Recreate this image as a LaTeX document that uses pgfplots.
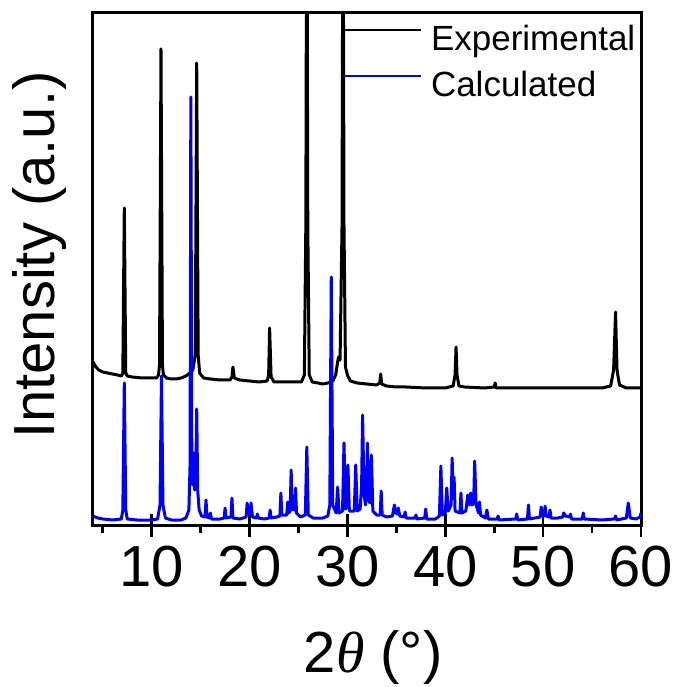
\documentclass[border=0pt]{standalone}
\usepackage{pgfplots}
\pgfplotsset{compat=1.18}
\usepackage{fontspec}
\setmainfont{Liberation Sans}
\newfontfamily\thetafont{Liberation Serif}
\begin{document}
\begin{tikzpicture}
\path[use as bounding box] (-92pt,-162pt) rectangle (583pt,525pt);
\begin{axis}[
  at={(0pt,0pt)}, anchor=south west,
  scale only axis, width=549pt, height=512pt,
  xmin=3.9, xmax=60, ymin=0, ymax=512,
  xtick={10,20,...,60}, minor xtick={5,15,...,55},
  ytick=\empty, xtick pos=bottom,
  /pgf/number format/assume math mode=true,
  tick align=center, major tick length=23pt, minor tick length=8pt,
  every tick/.style={black, line width=2.7pt},
  minor tick style={yshift=-4pt},
  axis line style={line width=3pt},
  tick label style={font=\fontsize{58}{60}\selectfont},
  xticklabel style={inner sep=0pt, anchor=north, yshift=-9pt},
  xlabel={2{\thetafont\itshape θ} (°)},
  xlabel style={font=\fontsize{58}{60}\selectfont, at={(axis description cs:0.512,-0.258)}, anchor=center},
  ylabel={Intensity (a.u.)},
  ylabel style={font=\fontsize{58}{60}\selectfont, at={(axis description cs:-0.096,0.527)}, anchor=center, rotate=0},
  legend style={at={(axis description cs:0.4554,0.9805)}, anchor=north west, draw=none, fill=none,
    inner sep=0pt, font=\fontsize{35}{37}\selectfont, row sep=8pt, column sep=6pt,
    nodes={inner sep=3pt, text height=24pt, text depth=8pt}},
  legend cell align=left,
  legend image code/.code={\draw[#1, line width=1.8pt] (0pt,12pt) -- (78pt,12pt);},
]
\addplot[black, line width=3pt, line join=round] coordinates {
(4.0,163) (4.3,158) (4.6,155) (5.0,153) (5.5,152) (6.0,151) (6.5,150) (6.9,149) (7.05,152) (7.2,317) (7.35,152) (7.5,149)
(8.0,148) (9.0,147) (10.0,147) (10.5,147) (10.7,150) (10.8,160) (10.95,476) (11.1,160) (11.2,150) (11.5,147)
(12.0,146) (12.5,146) (13.0,147) (13.5,149) (13.9,152) (14.2,155) (14.45,170) (14.6,462) (14.75,170) (14.9,152)
(15.3,147) (16.0,146) (17.0,145) (18.0,145) (18.2,148) (18.3,158) (18.45,147) (19.0,145) (20.0,144) (21.0,143)
(21.8,144) (21.95,150) (22.05,197) (22.2,148) (22.5,143) (23.5,143) (24.5,143) (25.3,143) (25.6,150) (25.75,300)
(25.85,700) (25.95,300) (26.1,150) (26.4,143) (27.0,142) (27.5,141) (28.0,142) (28.5,144) (28.8,150) (29.0,163)
(29.1,168) (29.25,165) (29.45,300) (29.55,700) (29.65,300) (29.8,158) (30.0,150) (30.3,144) (31.0,142) (32.0,141)
(33.0,140) (33.3,142) (33.4,151) (33.5,141) (34.0,139) (35.0,138) (36.0,138) (38.0,137) (40.0,137) (40.8,139)
(41.0,150) (41.1,178) (41.2,150) (41.4,139) (42.0,138) (44.0,137) (45.0,138) (45.1,142) (45.2,137) (47.0,137)
(50.0,137) (53.0,137) (56.0,137) (56.9,139) (57.2,155) (57.4,213) (57.55,155) (57.8,140) (58.5,137) (60.0,137)
};
\addlegendentry{Experimental}
\addplot[blue, line width=3pt, line join=round] coordinates {
(4.0,9) (4.5,7) (5.0,6) (6.0,5) (6.9,6) (7.05,15) (7.2,142) (7.35,15) (7.5,6) (8.5,5) (10.0,5) (10.6,6) (10.85,20)
(11.0,149) (11.15,20) (11.4,7) (12.0,5) (13.0,5) (13.5,7) (13.8,15) (13.92,60) (14.0,428) (14.1,60) (14.2,40)
(14.3,72) (14.4,35) (14.5,45) (14.6,116) (14.7,35) (14.85,15) (15.1,9) (15.45,8) (15.55,25) (15.65,8) (15.9,7)
(16.0,12) (16.1,6) (17.0,6) (17.4,7) (17.5,17) (17.6,7) (18.1,8) (18.2,27) (18.3,7) (19.0,6) (19.65,8) (19.75,22)
(19.9,12) (20.05,12) (20.15,22) (20.3,8) (20.7,7) (20.8,11) (20.9,7) (21.5,6) (22.0,7) (22.1,15) (22.2,7) (22.8,8)
(23.1,9) (23.2,32) (23.3,10) (23.8,10) (23.9,23) (24.0,12) (24.15,14) (24.25,55) (24.35,16) (24.6,15) (24.7,37)
(24.8,12) (25.2,8) (25.7,10) (25.85,78) (26.0,10) (26.5,7) (27.5,7) (28.0,9) (28.2,20) (28.35,248) (28.5,20)
(28.85,12) (29.0,38) (29.15,12) (29.5,14) (29.65,82) (29.8,16) (29.95,18) (30.05,60) (30.2,14) (30.7,14) (30.85,60)
(31.0,14) (31.3,16) (31.45,40) (31.55,110) (31.7,30) (31.85,20) (31.95,35) (32.05,82) (32.15,25) (32.3,22) (32.45,70)
(32.6,14) (33.0,10) (33.35,10) (33.45,34) (33.55,10) (34.0,8) (34.6,9) (34.8,20) (34.95,12) (35.1,11) (35.2,17)
(35.35,9) (35.8,8) (35.9,13) (36.0,7) (36.9,7) (37.0,10) (37.1,6) (37.9,7) (38.0,16) (38.1,6) (39.0,6) (39.4,9)
(39.55,59) (39.7,10) (40.0,12) (40.15,37) (40.3,14) (40.6,20) (40.7,67) (40.8,30) (40.9,48) (41.0,14) (41.5,12)
(41.6,32) (41.7,12) (42.1,14) (42.3,30) (42.45,20) (42.6,32) (42.75,20) (42.9,22) (43.0,64) (43.15,20) (43.4,12)
(43.5,23) (43.6,10) (44.1,7) (44.25,15) (44.4,6) (45.3,6) (45.4,9) (45.5,5) (47.2,6) (47.3,11) (47.4,5) (48.4,6)
(48.5,20) (48.6,6) (49.7,8) (49.8,18) (49.9,9) (50.1,9) (50.2,19) (50.3,9) (50.6,8) (50.7,15) (50.8,7) (51.5,7)
(52.0,8) (52.1,12) (52.3,9) (52.7,8) (52.8,11) (52.9,6) (54.0,6) (54.1,12) (54.2,6) (56.0,5) (57.3,6) (57.4,9)
(57.5,5) (58.5,7) (58.7,22) (58.9,7) (59.5,6) (59.9,8) (60.0,12)
};
\addlegendentry{Calculated}
\end{axis}
\end{tikzpicture}
\end{document}
